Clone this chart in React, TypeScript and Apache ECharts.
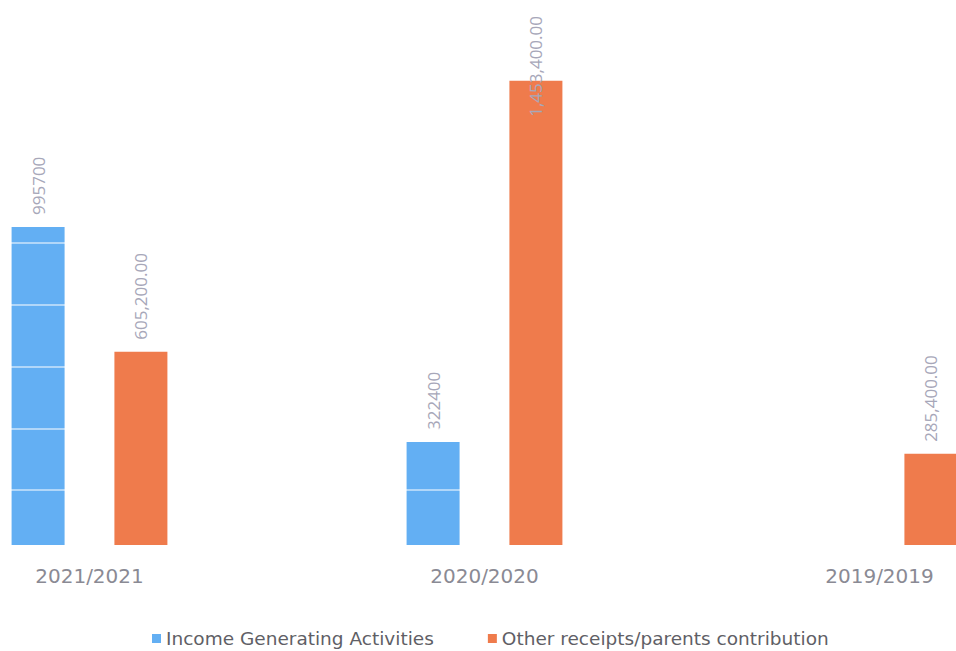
import React, { useEffect, useRef } from "react";
import * as echarts from "echarts";

// Financial years on the category axis
const years = ["2021/2021", "2020/2020", "2019/2019"];
// Income Generating Activities (no record for 2019/2019)
const incomeGenerating: (number | null)[] = [995700, 322400, null];
// Other receipts / parents contribution
const otherReceipts: number[] = [605200, 1453400, 285400];
// Faint horizontal rules that run across the blue bars
const ruleValues: number[] = [172000, 363000, 557000, 751000, 945000];

const seriesNames = ["Income Generating Activities", "Other receipts/parents contribution"];

const fmtMoney = (v: number) =>
  v.toLocaleString("en-US", { minimumFractionDigits: 2, maximumFractionDigits: 2 });

// The plot is wider than the visible frame: the outer categories run past both edges.
const FRAME_W = 956;
const FRAME_H = 651;
const PLOT_LEFT_OVERHANG = 108;
const PLOT_W = 1185;
const LABEL_GAP = 12;
const LABEL_TOP_LIMIT = 16;

export default function App() {
  const ref = useRef<HTMLDivElement>(null);

  useEffect(() => {
    if (!ref.current) return;
    const chart = echarts.init(ref.current, undefined, { renderer: "svg" });

    const labelBase = {
      show: true,
      position: "top" as const,
      rotate: 90,
      align: "left" as const,
      verticalAlign: "middle" as const,
      distance: LABEL_GAP,
      color: "#a7a7b9",
      fontFamily: "Open Sans",
      fontSize: 17,
    };

    chart.setOption({
      animation: false,
      backgroundColor: "#ffffff",
      grid: { left: 0, right: 0, top: 34, bottom: 106, containLabel: false },
      xAxis: {
        type: "category",
        data: years,
        axisLine: { show: false },
        axisTick: { show: false },
        axisLabel: {
          color: "#8a8a94",
          fontFamily: "DejaVu Sans",
          fontSize: 20,
          margin: 21,
        },
      },
      yAxis: {
        type: "value",
        min: 0,
        max: 1600000,
        show: false,
        splitLine: { show: false },
      },
      legend: {
        data: seriesNames,
        top: 624,
        left: PLOT_LEFT_OVERHANG + 147,
        itemWidth: 9,
        itemHeight: 9,
        itemGap: 54,
        icon: "rect",
        textStyle: { color: "#5f5f66", fontFamily: "DejaVu Sans", fontSize: 18.5 },
      },
      // Labels that would run off the top are slid back down along the bar;
      // the shift is given in the label's own (rotated) frame.
      labelLayout: (params: any) => {
        const bar = params.rect;
        const lr = params.labelRect;
        if (!bar || !lr) return {};
        const len = Math.max(lr.width, lr.height);
        const topEnd = bar.y - LABEL_GAP - len;
        if (topEnd < LABEL_TOP_LIMIT) return { dx: -(LABEL_TOP_LIMIT - topEnd) };
        return {};
      },
      series: [
        {
          name: seriesNames[0],
          type: "bar",
          data: incomeGenerating,
          barWidth: 53,
          barGap: "94%",
          z: 2,
          itemStyle: { color: "#63aff3" },
          label: { ...labelBase, formatter: (p: any) => String(p.value) },
          markLine: {
            silent: true,
            symbol: "none",
            label: { show: false },
            lineStyle: { color: "rgba(255,255,255,0.5)", width: 2, type: "solid" },
            data: ruleValues.map((v) => ({ yAxis: v })),
          },
        },
        {
          name: seriesNames[1],
          type: "bar",
          data: otherReceipts,
          barWidth: 53,
          z: 5,
          itemStyle: { color: "#ef7b4c" },
          label: { ...labelBase, formatter: (p: any) => fmtMoney(p.value) },
        },
      ],
    });

    return () => chart.dispose();
  }, []);

  return (
    <div
      style={{
        position: "absolute",
        left: 0,
        top: 0,
        width: FRAME_W,
        height: FRAME_H,
        overflow: "hidden",
        background: "#fff",
      }}
    >
      <div
        ref={ref}
        style={{ position: "absolute", left: -PLOT_LEFT_OVERHANG, top: 0, width: PLOT_W, height: FRAME_H }}
      />
    </div>
  );
}
